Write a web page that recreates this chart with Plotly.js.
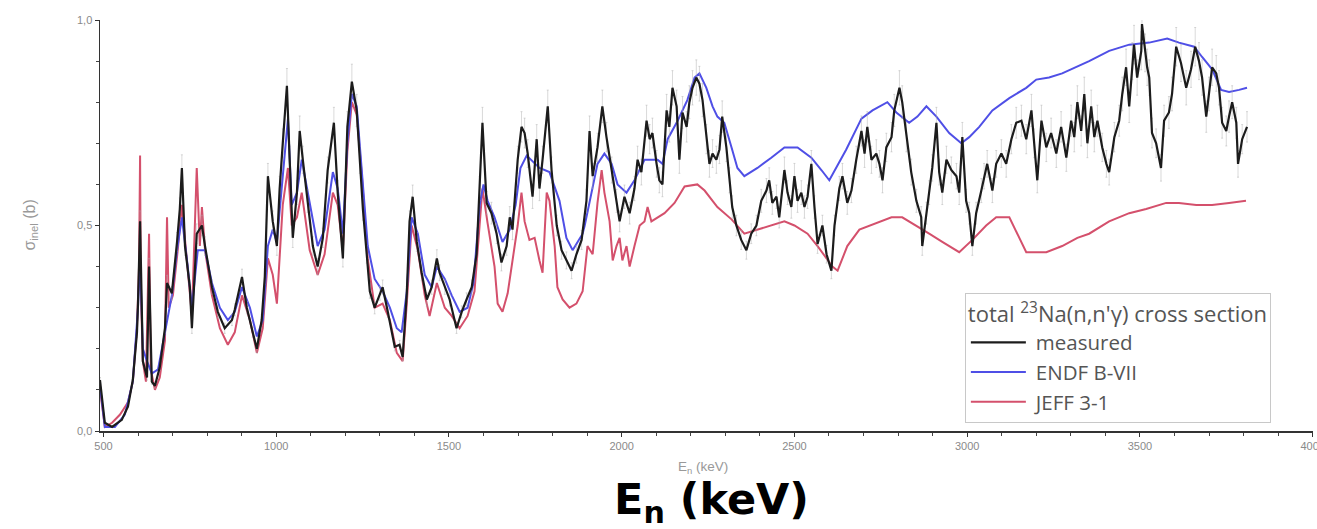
<!DOCTYPE html>
<html>
<head>
<meta charset="utf-8">
<script src="https://cdn.plot.ly/plotly-3.0.1.min.js"></script>
<style>html,body{margin:0;padding:0;background:#fff}#chart{width:1317px;height:529px}</style>
</head>
<body>
<div id="chart"></div>
<script>
// Measured total 23Na(n,n'γ) cross section (keV, b)
var measE = [490,504,525,553,571,585,597,600,606,614,626,632,640,649,663,678,684,698,713,721,727,736,750,756,770,785,794,814,831,851,872,880,901,915,932,944,958,967,976,990,1002,1010,1019,1031,1039,1048,1060,1068,1077,1091,1106,1120,1135,1149,1167,1178,1193,1206,1219,1233,1242,1251,1262,1271,1285,1300,1308,1323,1343,1357,1366,1378,1386,1395,1407,1421,1436,1450,1465,1473,1488,1502,1522,1537,1551,1566,1580,1589,1597,1609,1623,1638,1652,1667,1676,1684,1699,1710,1719,1728,1742,1754,1762,1771,1786,1797,1812,1826,1840,1855,1869,1884,1898,1907,1916,1930,1944,1956,1971,1985,1994,2008,2023,2037,2046,2057,2072,2081,2089,2101,2109,2118,2130,2138,2147,2159,2167,2176,2188,2196,2205,2216,2225,2234,2245,2254,2263,2274,2283,2291,2303,2312,2320,2332,2346,2361,2375,2390,2404,2419,2427,2436,2448,2456,2471,2480,2491,2500,2509,2520,2529,2538,2549,2558,2567,2581,2593,2607,2616,2630,2639,2653,2665,2679,2694,2703,2711,2723,2737,2746,2755,2766,2781,2789,2804,2812,2824,2838,2853,2867,2870,2882,2890,2899,2911,2919,2928,2940,2954,2969,2977,2986,2997,3006,3015,3026,3041,3049,3058,3073,3084,3099,3113,3128,3142,3157,3171,3186,3194,3203,3215,3229,3243,3258,3272,3287,3301,3310,3319,3330,3339,3348,3359,3368,3377,3391,3403,3411,3426,3440,3449,3460,3469,3478,3483,3492,3504,3506,3515,3521,3527,3535,3547,3561,3570,3584,3593,3605,3619,3634,3648,3660,3671,3680,3692,3700,3709,3721,3729,3738,3750,3758,3767,3779,3784,3796,3810];
var measS = [0.124,0.02,0.01,0.027,0.06,0.124,0.24,0.31,0.51,0.17,0.13,0.40,0.12,0.11,0.155,0.25,0.36,0.335,0.46,0.54,0.64,0.45,0.35,0.25,0.48,0.50,0.45,0.35,0.29,0.25,0.27,0.295,0.375,0.30,0.24,0.20,0.27,0.375,0.62,0.51,0.45,0.59,0.70,0.84,0.66,0.47,0.58,0.73,0.66,0.56,0.45,0.40,0.47,0.635,0.75,0.58,0.42,0.74,0.85,0.78,0.66,0.54,0.43,0.34,0.30,0.335,0.35,0.29,0.205,0.21,0.18,0.335,0.51,0.57,0.46,0.385,0.32,0.35,0.42,0.385,0.35,0.32,0.25,0.29,0.32,0.35,0.43,0.59,0.75,0.555,0.53,0.48,0.41,0.45,0.52,0.49,0.66,0.74,0.725,0.675,0.57,0.71,0.59,0.66,0.79,0.635,0.50,0.44,0.415,0.39,0.43,0.465,0.56,0.73,0.62,0.69,0.79,0.715,0.635,0.56,0.51,0.57,0.53,0.59,0.66,0.63,0.755,0.71,0.725,0.65,0.61,0.60,0.78,0.74,0.835,0.79,0.66,0.775,0.74,0.80,0.835,0.86,0.845,0.805,0.71,0.65,0.675,0.66,0.685,0.765,0.69,0.61,0.545,0.50,0.465,0.44,0.48,0.50,0.56,0.585,0.61,0.555,0.57,0.52,0.635,0.58,0.545,0.62,0.56,0.58,0.545,0.57,0.65,0.545,0.455,0.50,0.43,0.39,0.50,0.59,0.62,0.555,0.585,0.66,0.73,0.675,0.74,0.66,0.675,0.65,0.61,0.69,0.715,0.78,0.835,0.80,0.715,0.63,0.56,0.52,0.45,0.53,0.58,0.64,0.75,0.63,0.58,0.66,0.635,0.62,0.58,0.715,0.56,0.53,0.45,0.53,0.585,0.62,0.65,0.585,0.65,0.675,0.65,0.71,0.75,0.755,0.71,0.78,0.70,0.61,0.755,0.69,0.725,0.675,0.74,0.665,0.755,0.715,0.80,0.73,0.82,0.70,0.79,0.715,0.755,0.69,0.65,0.63,0.715,0.755,0.82,0.885,0.79,0.90,0.94,0.86,0.925,0.99,0.92,0.885,0.86,0.725,0.70,0.64,0.755,0.775,0.82,0.935,0.895,0.835,0.88,0.935,0.90,0.86,0.765,0.82,0.885,0.87,0.835,0.75,0.73,0.765,0.80,0.75,0.65,0.71,0.74];

// ENDF B-VII evaluation
var endfE = [490,504,533,562,585,600,606,614,626,640,658,678,698,713,727,744,756,773,794,814,837,860,880,901,924,944,961,976,990,1002,1019,1034,1045,1060,1074,1097,1120,1140,1164,1178,1193,1206,1219,1233,1248,1265,1285,1308,1329,1349,1363,1378,1392,1410,1430,1450,1465,1488,1508,1531,1554,1571,1589,1600,1612,1632,1655,1676,1693,1707,1725,1762,1791,1820,1840,1858,1887,1893,1930,1950,1971,1988,2014,2037,2066,2104,2118,2133,2162,2190,2211,2225,2245,2263,2277,2297,2318,2335,2355,2393,2433,2471,2509,2549,2578,2601,2650,2694,2726,2769,2795,2832,2856,2882,2911,2948,2983,3006,3035,3073,3122,3171,3200,3237,3275,3316,3353,3411,3469,3527,3579,3613,3657,3680,3709,3735,3758,3787,3810];
var endfS = [0.11,0.01,0.01,0.04,0.12,0.30,0.42,0.20,0.17,0.14,0.15,0.24,0.33,0.44,0.52,0.40,0.30,0.44,0.44,0.36,0.30,0.27,0.29,0.35,0.30,0.23,0.27,0.45,0.49,0.46,0.62,0.76,0.55,0.58,0.66,0.55,0.45,0.49,0.63,0.59,0.48,0.70,0.82,0.79,0.64,0.45,0.37,0.34,0.30,0.25,0.24,0.34,0.52,0.48,0.38,0.35,0.40,0.37,0.33,0.29,0.30,0.36,0.55,0.60,0.56,0.52,0.46,0.49,0.55,0.64,0.67,0.64,0.63,0.56,0.47,0.44,0.48,0.50,0.65,0.675,0.65,0.60,0.58,0.61,0.66,0.66,0.65,0.71,0.755,0.805,0.86,0.87,0.835,0.79,0.765,0.75,0.69,0.64,0.62,0.64,0.665,0.69,0.69,0.665,0.635,0.61,0.685,0.76,0.78,0.80,0.775,0.75,0.765,0.79,0.765,0.725,0.70,0.715,0.74,0.78,0.81,0.835,0.855,0.86,0.87,0.885,0.90,0.925,0.94,0.945,0.955,0.945,0.935,0.91,0.88,0.83,0.825,0.83,0.835];

// JEFF 3-1 evaluation
var jeffE = [490,504,525,548,571,585,597,603,606,608,614,623,632,637,649,663,678,684,689,701,715,727,741,756,770,779,785,794,814,837,860,880,901,924,944,961,976,990,1002,1019,1034,1045,1060,1074,1097,1120,1140,1164,1178,1193,1206,1219,1233,1248,1265,1285,1308,1329,1349,1366,1378,1392,1410,1430,1444,1465,1488,1508,1531,1554,1574,1589,1597,1612,1623,1632,1641,1655,1670,1684,1699,1710,1719,1733,1748,1762,1771,1783,1791,1806,1814,1829,1849,1869,1887,1901,1916,1930,1942,1950,1965,1974,1985,1994,2002,2014,2023,2037,2052,2066,2075,2086,2124,2153,2182,2219,2240,2277,2318,2355,2393,2433,2471,2500,2538,2567,2596,2610,2625,2653,2688,2737,2781,2812,2853,2890,2928,2977,3015,3055,3084,3122,3171,3229,3275,3319,3353,3411,3469,3518,3576,3613,3663,3709,3758,3807];
var jeffS = [0.10,0.01,0.02,0.04,0.07,0.12,0.25,0.40,0.67,0.35,0.17,0.12,0.48,0.15,0.10,0.13,0.22,0.52,0.30,0.33,0.44,0.55,0.42,0.28,0.64,0.45,0.545,0.44,0.33,0.25,0.21,0.24,0.33,0.27,0.19,0.25,0.42,0.38,0.31,0.55,0.64,0.50,0.52,0.58,0.44,0.38,0.43,0.58,0.55,0.44,0.68,0.80,0.77,0.62,0.42,0.30,0.31,0.27,0.19,0.17,0.31,0.50,0.44,0.33,0.28,0.36,0.30,0.28,0.25,0.28,0.34,0.50,0.59,0.505,0.45,0.40,0.31,0.29,0.335,0.415,0.50,0.58,0.51,0.465,0.47,0.415,0.385,0.58,0.56,0.45,0.35,0.32,0.30,0.31,0.34,0.45,0.43,0.555,0.635,0.58,0.51,0.415,0.45,0.47,0.415,0.45,0.40,0.45,0.50,0.51,0.545,0.51,0.53,0.555,0.595,0.60,0.585,0.545,0.515,0.48,0.49,0.50,0.51,0.50,0.48,0.45,0.415,0.40,0.39,0.45,0.49,0.505,0.52,0.52,0.50,0.48,0.46,0.435,0.465,0.50,0.52,0.52,0.435,0.435,0.45,0.47,0.48,0.51,0.53,0.54,0.555,0.555,0.55,0.55,0.555,0.56];

var xTickStart = 500, xTickStep = 500;

var traces = [
  {x: jeffE, y: jeffS, type: 'scatter', mode: 'lines', name: 'JEFF 3-1',
   line: {color: '#d4506c', width: 2}},
  {x: endfE, y: endfS, type: 'scatter', mode: 'lines', name: 'ENDF B-VII',
   line: {color: '#4f4fe6', width: 2}},
  {x: measE, y: measS, type: 'scatter', mode: 'lines', name: 'measured',
   line: {color: '#1c1c1c', width: 2.2},
   error_y: {type: 'percent', value: 5, color: 'rgba(170,170,170,0.45)', thickness: 1, width: 1}}
];

var legendFont = 'Open Sans, Liberation Sans, Arial, sans-serif';

var layout = {
  width: 1317, height: 529,
  margin: {l: 100, r: 4, t: 20, b: 98},
  paper_bgcolor: '#ffffff', plot_bgcolor: '#ffffff',
  font: {family: 'Liberation Sans, Arial, sans-serif', color: '#888'},
  separators: ',.',
  showlegend: true,
  xaxis: {
    range: [490, 4001], showgrid: false, zeroline: false,
    showline: true, linecolor: '#333', linewidth: 1.5,
    ticks: 'outside', ticklen: 4, tickwidth: 1, tickcolor: '#333',
    tick0: xTickStart, dtick: xTickStep, ticklabeloverflow: 'allow',
    minor: {dtick: 100, ticks: 'outside', ticklen: 3, tickcolor: '#444'},
    tickfont: {size: 11, color: '#8a8a8a'}
  },
  yaxis: {
    range: [0, 1.0], showgrid: false, zeroline: false,
    showline: true, linecolor: '#333', linewidth: 1.5,
    ticks: 'outside', ticklen: 4, tickwidth: 1, tickcolor: '#333',
    tick0: 0, dtick: 0.5, tickformat: '.1f', ticklabeloverflow: 'allow',
    minor: {dtick: 0.1, ticks: 'outside', ticklen: 3, tickcolor: '#444'},
    tickfont: {size: 11, color: '#8a8a8a'}
  },
  legend: {
    x: 0.713, xanchor: 'left', y: 0.336, yanchor: 'top',
    bgcolor: '#ffffff', bordercolor: '#c8c8c8', borderwidth: 1,
    traceorder: 'reversed', itemwidth: 60,
    font: {size: 20.5, color: '#555', family: legendFont},
    title: {text: "total <sup>23</sup>Na(n,n'γ) cross section",
            font: {size: 22, color: '#555', family: legendFont}}
  },
  annotations: [
    {text: 'σ<sub>inel</sub> (b)', xref: 'paper', yref: 'paper', x: -0.0577, y: 0.5,
     xanchor: 'center', yanchor: 'middle',
     showarrow: false, textangle: -90, font: {size: 16, color: '#999'}},
    {text: 'E<sub>n</sub> (keV)', xref: 'paper', yref: 'paper', x: 0.497, y: -0.088,
     xanchor: 'center', yanchor: 'middle',
     showarrow: false, font: {size: 13.5, color: '#999'}},
    {text: '<b>E<sub>n</sub> (keV)</b>', xref: 'paper', yref: 'paper', x: 0.5045, y: -0.172,
     xanchor: 'center', yanchor: 'middle',
     showarrow: false, font: {size: 43, color: '#000', family: 'DejaVu Sans, Verdana, sans-serif'}}
  ]
};

Plotly.newPlot('chart', traces, layout, {staticPlot: true, displayModeBar: false}).then(function (gd) {
  // lengthen legend line samples to match the reference legend
  var paths = gd.querySelectorAll('.legend .legendlines path');
  for (var i = 0; i < paths.length; i++) paths[i].setAttribute('d', 'M5,0h55');
});
</script>
</body>
</html>
